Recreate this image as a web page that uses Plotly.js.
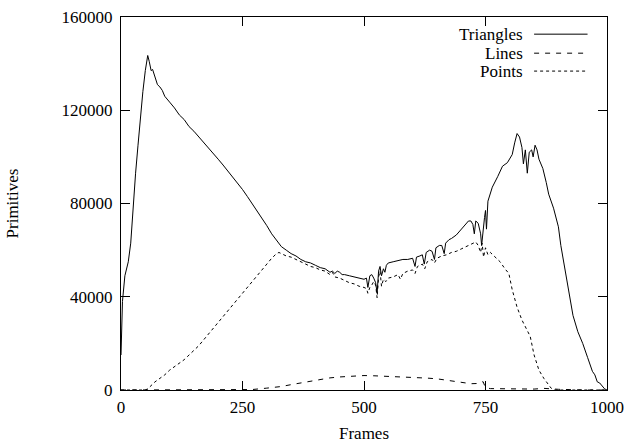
<!DOCTYPE html>
<html>
<head>
<meta charset="utf-8">
<script src="https://cdn.plot.ly/plotly-3.0.1.min.js"></script>
<style>html,body{margin:0;padding:0;background:#fff;}#chart{width:627px;height:447px;}</style>
</head>
<body>
<div id="chart"></div>
<script>
// ---- data ----
const triFrames = [0,3,8,15,20,25,30,35,40,45,50,55,58,62,65,70,75,80,85,90,95,100,110,120,130,140,150,160,170,180,190,200,210,220,230,240,250,260,270,280,290,300,310,320,330,340,350,360,370,380,390,400,410,420,430,435,440,445,450,455,460,470,480,490,500,505,508,512,516,520,524,527,530,533,536,540,543,546,550,560,570,580,590,598,600,605,608,615,620,624,628,635,640,645,648,655,660,665,668,675,680,690,700,705,710,715,720,724,727,730,735,740,742,745,748,750,752,755,764,775,785,795,800,805,810,815,820,825,828,832,836,840,845,848,852,856,860,864,868,875,880,890,900,905,910,915,920,925,930,940,950,960,970,975,980,985,990,995,1000];
const triValues = [15000,38000,49000,55000,63000,80000,93000,105000,118000,128000,137000,143500,141000,137000,137500,134000,131000,130000,128500,126000,124500,123500,121000,118000,116000,113000,111000,108500,106000,104000,101500,99000,96500,94000,91000,88500,86000,83000,80000,77000,74000,70500,67000,64000,61500,60000,58500,57500,56000,55000,54500,53500,52500,52000,50500,51000,50000,51000,50500,49500,49500,49000,48500,48000,47500,48000,44000,49000,49500,48000,46000,41500,51000,53000,49000,52000,50500,53500,54500,55000,55500,56000,56000,56500,56500,53000,57000,57500,58000,54000,59000,60000,59500,56000,61000,62000,62000,58500,63000,64500,65000,66500,69000,70000,71000,72500,72500,71000,67000,72500,71500,67000,62000,70000,74000,77000,69000,81000,87000,91500,96000,97500,99000,101000,106000,110000,108500,104000,97000,103000,93000,102000,103000,100000,105000,103000,99000,97000,95000,89000,84000,78000,70000,62000,56000,50000,43000,37000,32000,25000,20000,14000,8000,6500,3500,3000,1500,500,0];

const lineFrames = [0,250,270,300,330,350,380,400,430,450,480,500,520,550,580,600,630,650,680,700,720,735,745,750,760,800,850,870,900,950,1000];
const lineValues = [0,0,200,800,1500,2300,3500,4300,5200,5600,6000,6200,6100,5900,5600,5400,5100,4800,4000,3400,2700,2800,3600,1000,600,500,400,700,300,0,0];

const ptFrames = [0,50,55,60,70,80,90,100,110,120,130,140,150,160,170,180,190,200,210,220,230,240,250,260,270,280,290,300,310,320,325,330,340,350,360,370,380,390,400,410,420,430,435,440,450,460,470,480,490,500,505,508,512,516,520,524,527,530,533,536,540,545,550,560,570,575,580,590,600,605,610,620,625,630,640,645,650,660,670,680,690,700,710,720,730,735,740,743,746,750,755,760,770,780,790,798,805,815,825,835,842,850,860,870,878,885,890,1000];
const ptValues = [0,0,500,1500,3500,5000,6500,8500,10000,11500,13000,15000,17000,19000,21500,24000,26500,29000,31500,34000,36500,39000,41500,44000,46500,49000,51500,54000,56500,58500,59000,58500,57500,57000,56000,55000,54000,53000,52500,51500,51000,49500,50500,48500,48000,47000,46000,45500,44500,44000,43500,41500,44000,45000,46500,45000,39500,48500,51000,44500,47500,46500,48000,48500,49500,47500,50000,51000,51500,50000,53000,54000,52000,55000,56000,54500,56500,57500,58000,59000,59500,60500,61500,62500,63500,62000,59000,63000,57000,61000,58000,59000,57000,55000,52000,50000,43000,35500,30000,26000,23000,15000,8500,5000,2500,800,0,0];

const seriesNames = ['Triangles','Lines','Points'];
const xTicks = [0,250,500,750,1000];
const yTicks = [0,40000,80000,120000,160000];

const FONT = 'Liberation Serif, Times New Roman, serif';
const dashes = ['solid','5px,6px','3px,3px'];

const traces = [
  {x: triFrames, y: triValues},
  {x: lineFrames, y: lineValues},
  {x: ptFrames, y: ptValues}
].map((t, i) => ({
  x: t.x, y: t.y, type: 'scatter', mode: 'lines', name: seriesNames[i],
  line: {color: '#000', width: 1, dash: dashes[i]}, showlegend: false
}));

// gnuplot-style key: text right-aligned, sample to the right
const keyY = [0.954, 0.903, 0.855];
const annotations = seriesNames.map((n, i) => ({
  xref: 'paper', yref: 'paper', x: 0.832, y: keyY[i], xanchor: 'right', yanchor: 'middle',
  text: n, showarrow: false, font: {family: FONT, size: 17, color: '#000'}
}));
const shapes = seriesNames.map((n, i) => ({
  type: 'line', xref: 'paper', yref: 'paper', x0: 0.850, x1: 0.960, y0: keyY[i], y1: keyY[i],
  line: {color: '#000', width: 1, dash: dashes[i]}
}));

const axisCommon = {
  showgrid: false, zeroline: false, showline: true, linecolor: '#000', linewidth: 1,
  mirror: 'allticks', ticks: 'inside', ticklen: 9, tickwidth: 1, tickcolor: '#000',
  tickfont: {family: FONT, size: 17, color: '#000'}, tickmode: 'array'
};

const layout = {
  width: 627, height: 447,
  margin: {l: 121, r: 20, t: 17, b: 57},
  paper_bgcolor: '#fff', plot_bgcolor: '#fff',
  xaxis: Object.assign({}, axisCommon, {
    range: [0, 1000], tickvals: xTicks, ticktext: xTicks.map(String), ticklabelstandoff: 2,
    title: {text: 'Frames', font: {family: FONT, size: 17, color: '#000'}, standoff: 10}
  }),
  yaxis: Object.assign({}, axisCommon, {
    range: [0, 160000], tickvals: yTicks, ticktext: yTicks.map(String), ticklabelstandoff: 4,
    title: {text: 'Primitives', font: {family: FONT, size: 17, color: '#000'}, standoff: 38}
  }),
  annotations: annotations, shapes: shapes
};

Plotly.newPlot('chart', traces, layout, {displayModeBar: false, staticPlot: true});
</script>
</body>
</html>
